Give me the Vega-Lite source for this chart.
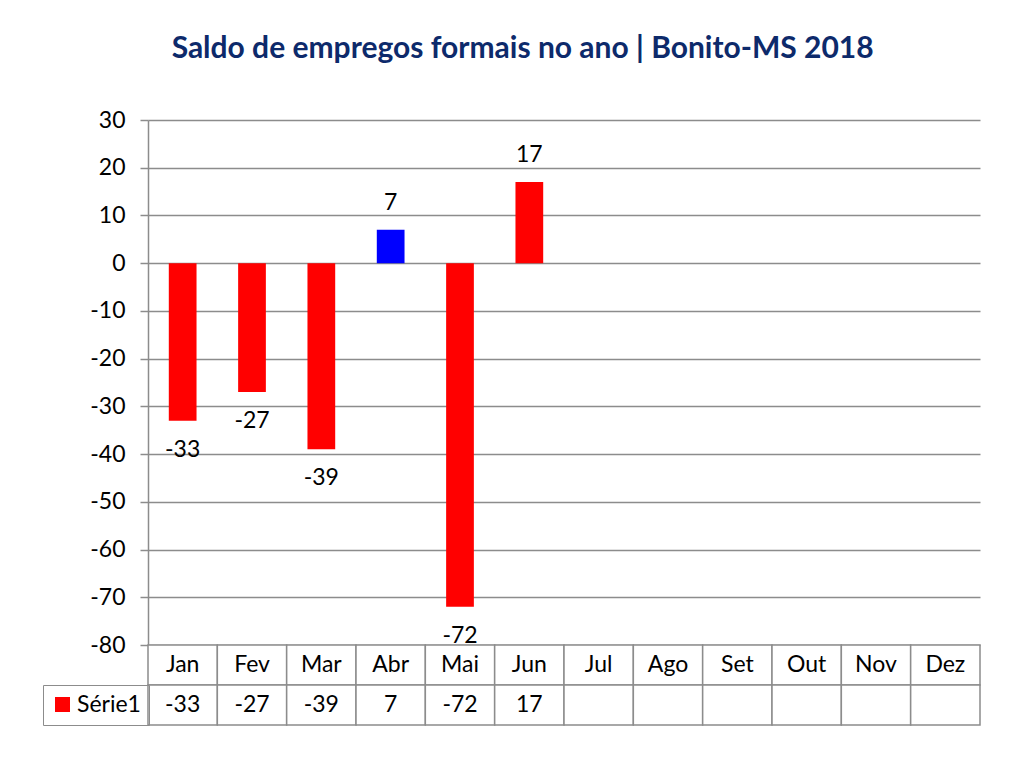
{
  "$schema": "https://vega.github.io/schema/vega-lite/v6.json",
  "padding": {"left": 42, "top": 34, "right": 10, "bottom": 10},
  "background": "white",
  "config": {
    "view": {"stroke": null},
    "font": "Lato",
    "legend": {
      "orient": "none",
      "legendX": -105,
      "legendY": 565,
      "title": null,
      "strokeColor": "#8c8c8c",
      "padding": 8,
      "symbolType": "square",
      "symbolSize": 225,
      "symbolStrokeWidth": 0,
      "labelFontSize": 23,
      "labelFont": "Lato",
      "labelColor": "#000000",
      "labelOffset": 3
    }
  },
  "title": {
    "text": "Saldo de empregos formais no ano | Bonito-MS 2018",
    "font": "Lato",
    "fontSize": 30,
    "fontWeight": "bold",
    "color": "#0D2A6B",
    "anchor": "middle",
    "dx": 11,
    "offset": 45
  },
  "data": {
    "values": [
      {"mes": "Jan", "valor": -33, "serie": "Série1"},
      {"mes": "Fev", "valor": -27, "serie": "Série1"},
      {"mes": "Mar", "valor": -39, "serie": "Série1"},
      {"mes": "Abr", "valor": 7, "serie": "Série1"},
      {"mes": "Mai", "valor": -72, "serie": "Série1"},
      {"mes": "Jun", "valor": 17, "serie": "Série1"},
      {"mes": "Jul", "valor": null, "serie": "Série1"},
      {"mes": "Ago", "valor": null, "serie": "Série1"},
      {"mes": "Set", "valor": null, "serie": "Série1"},
      {"mes": "Out", "valor": null, "serie": "Série1"},
      {"mes": "Nov", "valor": null, "serie": "Série1"},
      {"mes": "Dez", "valor": null, "serie": "Série1"}
    ]
  },
  "spacing": 0,
  "bounds": "flush",
  "vconcat": [
    {
      "width": 832,
      "height": 525,
      "encoding": {
        "x": {
          "field": "mes",
          "type": "nominal",
          "sort": ["Jan","Fev","Mar","Abr","Mai","Jun","Jul","Ago","Set","Out","Nov","Dez"],
          "scale": {"domain": ["Jan","Fev","Mar","Abr","Mai","Jun","Jul","Ago","Set","Out","Nov","Dez"], "paddingInner": 0, "paddingOuter": 0},
          "axis": null
        },
        "y": {
          "field": "valor",
          "type": "quantitative",
          "scale": {"domain": [-80, 30], "nice": false, "zero": false},
          "axis": {
            "values": [-80,-70,-60,-50,-40,-30,-20,-10,0,10,20,30],
            "labelExpr": "datum.value + ''",
            "title": null,
            "grid": true,
            "gridColor": "#8c8c8c",
            "gridWidth": 1.5,
            "domainColor": "#8c8c8c",
            "domainWidth": 1.5,
            "tickColor": "#8c8c8c",
            "tickWidth": 1.5,
            "tickSize": 8,
            "labelFontSize": 23,
            "labelFont": "Lato",
            "labelColor": "#000000",
            "labelPadding": 15
          }
        }
      },
      "layer": [
        {
          "mark": {"type": "bar", "width": {"band": 0.4}},
          "encoding": {
            "color": {
              "condition": {"test": "datum.mes === 'Abr'", "value": "#0000FF"},
              "field": "serie",
              "type": "nominal",
              "scale": {"domain": ["Série1"], "range": ["#FF0000"]}
            }
          }
        },
        {
          "transform": [{"filter": "isValid(datum.valor) && datum.valor >= 0"}],
          "mark": {"type": "text", "fontSize": 23, "font": "Lato", "color": "#000000", "baseline": "middle", "dy": -27},
          "encoding": {"text": {"field": "valor", "type": "nominal"}}
        },
        {
          "transform": [{"filter": "isValid(datum.valor) && datum.valor < 0"}],
          "mark": {"type": "text", "fontSize": 23, "font": "Lato", "color": "#000000", "baseline": "middle", "dy": 29},
          "encoding": {"text": {"field": "valor", "type": "nominal"}}
        }
      ]
    },
    {
      "width": 832,
      "height": 80,
      "encoding": {
        "x": {
          "field": "mes",
          "type": "nominal",
          "sort": ["Jan","Fev","Mar","Abr","Mai","Jun","Jul","Ago","Set","Out","Nov","Dez"],
          "scale": {"domain": ["Jan","Fev","Mar","Abr","Mai","Jun","Jul","Ago","Set","Out","Nov","Dez"], "paddingInner": 0, "paddingOuter": 0},
          "axis": null
        }
      },
      "layer": [
        {
          "mark": {"type": "rect", "fill": "white", "stroke": "#8c8c8c", "strokeWidth": 1.5},
          "encoding": {
            "y": {"datum": "cab", "type": "nominal", "scale": {"domain": ["cab", "val"], "paddingInner": 0, "paddingOuter": 0}, "axis": null}
          }
        },
        {
          "mark": {"type": "rect", "fill": "white", "stroke": "#8c8c8c", "strokeWidth": 1.5},
          "encoding": {
            "y": {"datum": "val", "type": "nominal"}
          }
        },
        {
          "mark": {"type": "text", "fontSize": 23, "font": "Lato", "color": "#000000", "baseline": "middle"},
          "encoding": {
            "y": {"datum": "cab", "type": "nominal"},
            "text": {"field": "mes", "type": "nominal"}
          }
        },
        {
          "transform": [{"filter": "isValid(datum.valor)"}],
          "mark": {"type": "text", "fontSize": 23, "font": "Lato", "color": "#000000", "baseline": "middle"},
          "encoding": {
            "y": {"datum": "val", "type": "nominal"},
            "text": {"field": "valor", "type": "nominal"}
          }
        }
      ]
    }
  ]
}
